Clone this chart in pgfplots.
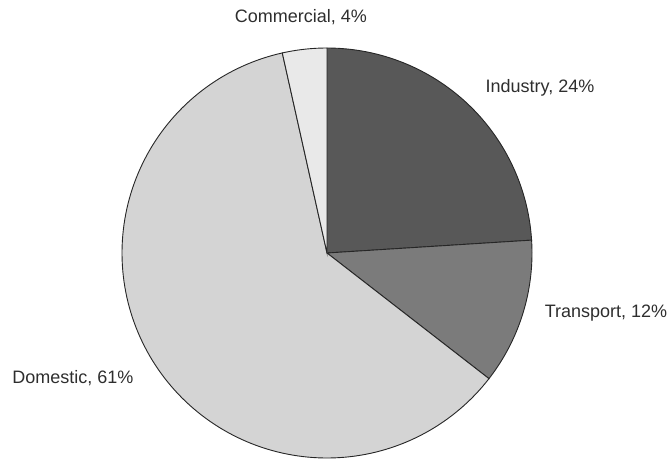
\documentclass[border=0pt]{standalone}
\usepackage{pgfplots}
\pgfplotsset{compat=1.18}
\usepackage{fontspec}
\setmainfont{Liberation Sans}
\definecolor{cInd}{HTML}{585858}
\definecolor{cTra}{HTML}{7B7B7B}
\definecolor{cDom}{HTML}{D4D4D4}
\definecolor{cCom}{HTML}{E9E9E9}
\definecolor{txt}{HTML}{2E2E2E}
\begin{document}
\begin{tikzpicture}
% shares in percent
\pgfmathsetmacro{\pInd}{24}
\pgfmathsetmacro{\pTra}{11.5}
\pgfmathsetmacro{\pDom}{61}
\pgfmathsetmacro{\pCom}{3.5}
\pgfmathsetmacro{\aA}{90}
\pgfmathsetmacro{\aB}{\aA-3.6*\pInd}
\pgfmathsetmacro{\aC}{\aB-3.6*\pTra}
\pgfmathsetmacro{\aD}{\aC-3.6*\pDom}
\pgfmathsetmacro{\aE}{\aD-3.6*\pCom}
\begin{axis}[
  scale only axis, width=671pt, height=459pt,
  xmin=0, xmax=671, ymin=0, ymax=459,
  hide axis, clip=false,
]
\addplot[draw=none, forget plot] coordinates {(0,0) (671,459)};
\addplot[fill=cInd, draw=black!85, line width=0.9pt, domain=\aB:\aA, samples=80, variable=\t]
  ({327+205*cos(t)}, {206+205*sin(t)}) -- (axis cs:327,206) -- cycle;
\addplot[fill=cTra, draw=black!85, line width=0.9pt, domain=\aC:\aB, samples=60, variable=\t]
  ({327+205*cos(t)}, {206+205*sin(t)}) -- (axis cs:327,206) -- cycle;
\addplot[fill=cDom, draw=black!85, line width=0.9pt, domain=\aD:\aC, samples=150, variable=\t]
  ({327+205*cos(t)}, {206+205*sin(t)}) -- (axis cs:327,206) -- cycle;
\addplot[fill=cCom, draw=black!85, line width=0.9pt, domain=\aE:\aD, samples=20, variable=\t]
  ({327+205*cos(t)}, {206+205*sin(t)}) -- (axis cs:327,206) -- cycle;
\node[text=txt, font=\fontsize{18}{21}\selectfont] at (axis cs:301,442) {Commercial, 4\%};
\node[text=txt, font=\fontsize{18}{21}\selectfont] at (axis cs:540,371) {Industry, 24\%};
\node[text=txt, font=\fontsize{18}{21}\selectfont] at (axis cs:606,146) {Transport, 12\%};
\node[text=txt, font=\fontsize{18}{21}\selectfont] at (axis cs:73,81) {Domestic, 61\%};
\end{axis}
\end{tikzpicture}
\end{document}
